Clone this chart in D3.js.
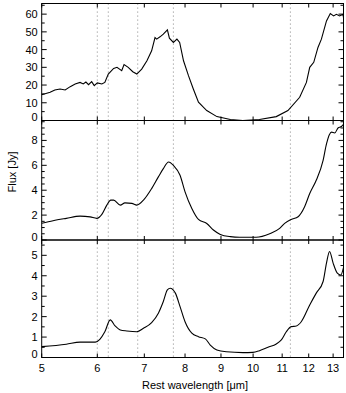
<!DOCTYPE html>
<html>
<head>
<meta charset="utf-8">
<script src="https://cdn.jsdelivr.net/npm/d3@7"></script>
<style>
body { margin: 0; background: #fff; }
text { font-family: "Liberation Sans", Arial, sans-serif; font-size: 11px; fill: #000; }
</style>
</head>
<body>
<div id="chart"></div>
<script>
// spectra (wavelength in micron, flux in Jy)
var wave1 = [5.00,5.14,5.22,5.31,5.40,5.49,5.58,5.67,5.73,5.78,5.83,5.89,5.94,6.00,6.09,6.15,6.22,6.33,6.40,6.50,6.55,6.64,6.74,6.83,6.94,7.06,7.17,7.25,7.29,7.37,7.45,7.55,7.60,7.70,7.79,7.86,7.96,8.09,8.22,8.36,8.59,8.88,9.28,9.67,10.21,10.79,11.21,11.65,11.91,12.04,12.20,12.37,12.51,12.72,12.88,13.02,13.14,13.28,13.43,13.45];
var flux1 = [14.5,15.9,17.2,17.8,17.2,19.1,20.6,21.5,20.6,21.7,20.2,21.9,19.7,21.2,20.6,21.5,26.2,29.4,30.0,28.1,31.5,30.0,27.5,26.2,29.0,33.7,39.3,46.8,45.9,47.2,48.7,51.1,46.4,44.0,45.9,44.0,33.7,25.3,17.8,10.3,5.6,2.2,0.6,0.0,0.6,2.2,5.6,13.1,21.5,30.0,32.8,41.2,45.9,56.2,60.3,59.0,59.9,59.0,59.9,58.0];

var wave2 = [5.00,5.19,5.42,5.67,5.86,5.99,6.09,6.19,6.27,6.33,6.47,6.57,6.72,6.83,6.98,7.17,7.33,7.45,7.58,7.70,7.87,8.00,8.18,8.36,8.59,8.78,8.98,9.28,9.57,10.10,10.56,10.91,11.09,11.33,11.59,11.84,12.04,12.30,12.58,12.72,12.93,13.07,13.21,13.36,13.45];
var flux2 = [1.34,1.55,1.74,1.92,1.86,1.74,2.06,2.80,3.20,3.20,2.80,2.98,2.94,2.80,3.20,4.13,5.07,5.73,6.27,6.00,5.20,3.87,2.53,1.65,1.33,0.80,0.45,0.27,0.22,0.22,0.50,0.93,1.33,1.65,1.87,2.67,3.73,4.80,6.40,7.73,8.67,8.60,9.00,9.12,9.30];

var wave3 = [5.00,5.42,5.67,5.96,6.05,6.15,6.26,6.36,6.47,6.61,6.83,6.98,7.17,7.33,7.45,7.55,7.62,7.75,7.87,8.00,8.18,8.36,8.55,8.69,8.88,9.16,9.67,9.99,10.21,10.50,10.79,10.97,11.15,11.33,11.52,11.71,12.04,12.30,12.58,12.72,12.85,13.00,13.18,13.33,13.45];
var flux3 = [0.53,0.65,0.75,0.75,0.89,1.26,1.84,1.55,1.35,1.30,1.26,1.43,1.71,2.17,2.74,3.31,3.39,3.15,2.49,1.75,1.19,1.02,0.91,0.61,0.37,0.28,0.24,0.25,0.33,0.50,0.66,0.86,1.26,1.51,1.54,1.75,2.57,3.15,3.72,4.62,5.19,4.62,4.13,4.04,4.40];

var xTicks = [5,6,7,8,9,10,11,12,13];
var features = [6.0, 6.22, 6.85, 7.7, 11.3];

var panels = [
  {wave: wave1, flux: flux1, ymax: 66, major: 10, minor: 5, smooth: false},
  {wave: wave2, flux: flux2, ymax: 9.6, major: 2, minor: 0.5, smooth: true},
  {wave: wave3, flux: flux3, ymax: 5.75, major: 1, minor: 0.5, smooth: true}
];

var width = 346, height = 393;
var left = 41.7, right = 343.5;
var tops = [3.5, 120.5, 240, 357.5];

var svg = d3.select("#chart").append("svg")
  .attr("width", width)
  .attr("height", height);

var x = d3.scaleLog().domain([5, 13.45]).range([left, right]);

// dotted feature lines through all panels
svg.selectAll("line.feat")
  .data(features)
  .enter()
  .append("line")
  .attr("class", "feat")
  .attr("x1", function(d){ return x(d); })
  .attr("x2", function(d){ return x(d); })
  .attr("y1", tops[0])
  .attr("y2", tops[3])
  .attr("stroke", "#999")
  .attr("stroke-width", 1)
  .attr("stroke-dasharray", "1.2,2.8");

panels.forEach(function(p, i){
  var y0 = tops[i], y1 = tops[i+1];
  var y = d3.scaleLinear().domain([0, p.ymax]).range([y1, y0]);
  var g = svg.append("g");

  var pts = p.wave.map(function(w, k){ return [w, p.flux[k]]; });
  var line = d3.line()
    .x(function(d){ return x(d[0]); })
    .y(function(d){ return y(d[1]); })
    .curve(p.smooth ? d3.curveMonotoneX : d3.curveLinear);

  g.append("path")
    .datum(pts)
    .attr("d", line)
    .attr("fill", "none")
    .attr("stroke", "#000")
    .attr("stroke-width", 1.1);

  // x ticks, top and bottom, inward
  g.selectAll("line.xt")
    .data(xTicks)
    .enter()
    .append("line")
    .attr("x1", function(d){ return x(d); })
    .attr("x2", function(d){ return x(d); })
    .attr("y1", y1)
    .attr("y2", y1 - 4)
    .attr("stroke", "#000");
  g.selectAll("line.xt2")
    .data(xTicks)
    .enter()
    .append("line")
    .attr("x1", function(d){ return x(d); })
    .attr("x2", function(d){ return x(d); })
    .attr("y1", y0)
    .attr("y2", y0 + 4)
    .attr("stroke", "#000");

  // y ticks, left and right
  var minorT = d3.range(0, p.ymax + 1e-6, p.minor);
  minorT.forEach(function(t){
    var isMajor = Math.abs(t / p.major - Math.round(t / p.major)) < 1e-6;
    var len = isMajor ? 5 : 3;
    g.append("line")
      .attr("x1", left).attr("x2", left + len)
      .attr("y1", y(t)).attr("y2", y(t))
      .attr("stroke", "#000");
    g.append("line")
      .attr("x1", right).attr("x2", right - len)
      .attr("y1", y(t)).attr("y2", y(t))
      .attr("stroke", "#000");
  });

  var majorT = d3.range(0, p.ymax + 1e-6, p.major);
  g.selectAll("text.yl")
    .data(majorT)
    .enter()
    .append("text")
    .attr("x", left - 4)
    .attr("y", function(d){ return Math.min(y(d), y1 - 3); })
    .attr("dy", "0.36em")
    .attr("text-anchor", "end")
    .text(function(d){ return d; });

  g.append("rect")
    .attr("x", left).attr("y", y0)
    .attr("width", right - left).attr("height", y1 - y0)
    .attr("fill", "none")
    .attr("stroke", "#000")
    .attr("stroke-width", 1);
});

svg.selectAll("text.xl")
  .data(xTicks)
  .enter()
  .append("text")
  .attr("x", function(d){ return x(d); })
  .attr("y", 372)
  .attr("text-anchor", "middle")
  .text(function(d){ return d; });

svg.append("text")
  .attr("x", 195)
  .attr("y", 389)
  .attr("text-anchor", "middle")
  .text("Rest wavelength [\u03bcm]");

svg.append("text")
  .attr("transform", "translate(16,172) rotate(-90)")
  .attr("text-anchor", "middle")
  .text("Flux [Jy]");
</script>
</body>
</html>
